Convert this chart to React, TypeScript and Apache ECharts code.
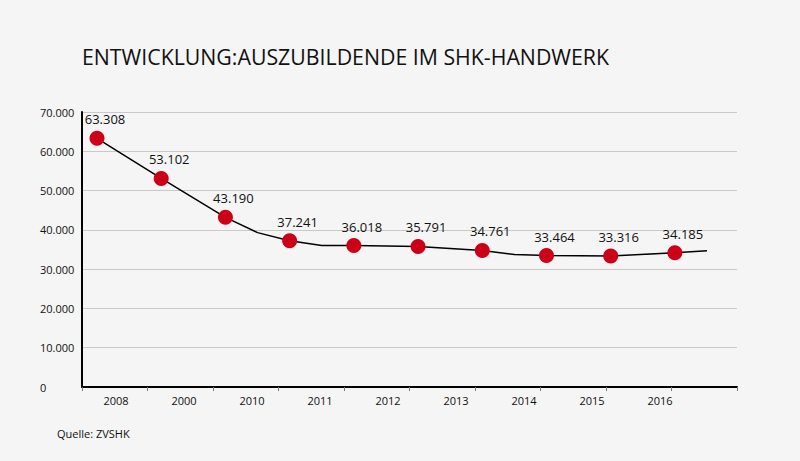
import React, { useEffect, useRef } from "react";
import * as echarts from "echarts";

const axisCategories = ["2008", "2000", "2010", "2011", "2012", "2013", "2014", "2015", "2016"];
const pointYears = [0, 1, 2, 3, 4, 5, 6, 7, 8, 9];
const pointValues = [63308, 53102, 43190, 37241, 36018, 35791, 34761, 33464, 33316, 34185];
const lineX = [0, 1, 2, 2.5, 3, 3.5, 4, 5, 6, 6.5, 7, 8, 9, 9.5];
const lineValues = [63308, 53102, 43190, 39300, 37241, 36018, 36018, 35791, 34761, 33700, 33464, 33316, 34185, 34700];
const yTicks = { min: 0, max: 70000, interval: 10000 };
const bandCount = 10;

const FONT = "'Open Sans', 'Noto Sans', sans-serif";
const fmt = (v: number) => String(Math.round(v)).replace(/\B(?=(\d{3})+(?!\d))/g, ".");

export default function App() {
  const ref = useRef<HTMLDivElement>(null);
  useEffect(() => {
    if (!ref.current) return;
    const chart = echarts.init(ref.current, null, { renderer: "svg" });
    const top = 112;
    const bottom = 74;
    chart.setOption({
      animation: false,
      backgroundColor: "#f5f5f5",
      textStyle: { fontFamily: FONT },
      title: {
        text: "ENTWICKLUNG:AUSZUBILDENDE IM SHK-HANDWERK",
        left: 82,
        top: 46,
        padding: 0,
        textStyle: { fontSize: 21.3, fontWeight: "normal", color: "#111", fontFamily: FONT },
      },
      graphic: [
        {
          type: "text",
          left: 57,
          top: 428,
          style: { text: "Quelle: ZVSHK", fontSize: 11, fill: "#111", fontFamily: FONT },
        },
      ],
      grid: [
        { left: 82, right: 63, top, bottom },
        { left: 97, right: 93, top, bottom },
        { left: 116, right: 140, top, bottom },
      ],
      xAxis: [
        {
          gridIndex: 0,
          type: "category",
          data: Array.from({ length: bandCount }, (_, i) => String(i)),
          boundaryGap: true,
          axisLine: { show: true, lineStyle: { color: "#000", width: 2 } },
          axisTick: { show: true, interval: 0, length: 4, lineStyle: { color: "#777", width: 1 } },
          axisLabel: { show: false },
          splitLine: { show: false },
        },
        { gridIndex: 1, type: "value", min: 0, max: 9.5, show: false },
        {
          gridIndex: 2,
          type: "category",
          data: axisCategories,
          boundaryGap: false,
          axisLine: { show: false },
          axisTick: { show: false },
          axisLabel: { show: true, interval: 0, margin: 8, fontSize: 11, color: "#111", fontFamily: FONT },
          splitLine: { show: false },
        },
      ],
      yAxis: [
        {
          gridIndex: 0,
          type: "value",
          min: yTicks.min,
          max: yTicks.max,
          interval: yTicks.interval,
          axisLine: { show: true, lineStyle: { color: "#000", width: 2 } },
          axisTick: { show: false },
          axisLabel: {
            show: true,
            align: "left",
            margin: 42,
            fontSize: 11,
            color: "#111",
            fontFamily: FONT,
            formatter: (v: number) => fmt(v),
          },
          splitLine: { show: true, lineStyle: { color: "#c9c9c9", width: 1 } },
        },
        { gridIndex: 1, type: "value", min: yTicks.min, max: yTicks.max, show: false },
        { gridIndex: 2, type: "value", min: yTicks.min, max: yTicks.max, show: false },
      ],
      series: [
        {
          type: "line",
          xAxisIndex: 1,
          yAxisIndex: 1,
          data: lineX.map((x, i) => [x, lineValues[i]]),
          showSymbol: false,
          symbol: "none",
          lineStyle: { color: "#000", width: 1.5 },
          silent: true,
          z: 2,
        },
        {
          type: "scatter",
          xAxisIndex: 1,
          yAxisIndex: 1,
          data: pointYears.map((x, i) => [x, pointValues[i]]),
          symbolSize: 15,
          itemStyle: { color: "#cc0017", opacity: 1 },
          label: {
            show: true,
            position: "top",
            distance: 5,
            offset: [8, 0],
            fontSize: 13,
            color: "#111",
            fontFamily: FONT,
            formatter: (p: any) => fmt(p.value[1]),
          },
          z: 3,
        },
      ],
    });
    return () => chart.dispose();
  }, []);
  return (
    <div
      ref={ref}
      style={{ position: "fixed", left: 0, top: 0, width: 800, height: 461, background: "#f5f5f5" }}
    />
  );
}
